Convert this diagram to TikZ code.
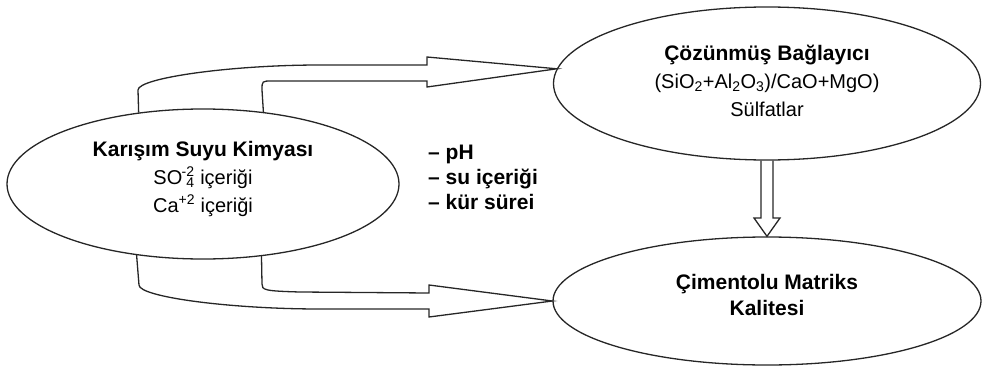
\documentclass[tikz,border=0pt]{standalone}
\usepackage{fontspec}
\setmainfont{Liberation Sans}
\usetikzlibrary{shapes.geometric,calc}

% stacked charge over a subscript, e.g. SO4^-2
\newcommand{\ionsub}[2]{\textsuperscript{\kern-.05em-}\kern-.02em\rlap{\textsuperscript{#2}}\textsubscript{#1}}

\begin{document}
\begin{tikzpicture}[x=1pt,y=-1pt,
  oval/.style={draw=black!85, line width=1.3pt, ellipse, inner sep=0pt,
    align=center, font=\fontsize{20}{28}\selectfont},
  blockarrow/.style={draw=black!85, line width=1.3pt, line join=miter},
  factorlist/.style={font=\bfseries\fontsize{21}{25}\selectfont, align=left, inner sep=0pt}]
\useasboundingbox (0,0) rectangle (982,369);

% the three ellipses (text depth lifts the text a little above centre)
\node[oval, minimum width=392pt, minimum height=150pt, text depth=15pt] (mix) at (203,184)
  {\textbf{\fontsize{21}{28}\selectfont Karışım Suyu Kimyası}\\
   SO\ionsub{4}{2} içeriği\\
   Ca\textsuperscript{+2} içeriği};
\node[oval, minimum width=427pt, minimum height=153pt, text depth=6pt] (bind) at (767,83.5)
  {\textbf{\fontsize{21}{28}\selectfont Çözünmüş Bağlayıcı}\\
   (SiO\textsubscript{2}+Al\textsubscript{2}O\textsubscript{3})/CaO+MgO)\\
   Sülfatlar};
\node[oval, minimum width=428pt, minimum height=128pt, text depth=12pt,
      font=\bfseries\fontsize{21}{26}\selectfont] (qual) at (767,301)
  {Çimentolu Matriks\\Kalitesi};

% factors between the arrows
\node[factorlist, anchor=west] (factors) at (428,177)
  {– pH\\– su içeriği\\– kür sürei};

% bent block arrow: mix -> bind
\draw[blockarrow] (mix.132.57) -- (138,90)
  .. controls (138,78) and (230,65) .. (320,65) -- (427,65) -- (427,57)
  -- (bind.176.9) -- (427,87) -- (427,81) -- (272,81)
  .. controls (262,81) .. (262,90) -- (mix.50.47);

% bent block arrow: mix -> qual
\draw[blockarrow] (mix.227.93) -- (139,285)
  .. controls (139,297) and (230,309) .. (320,309) -- (429,309) -- (429,317)
  -- (qual.west) -- (429,285) -- (429,293) -- (300,292)
  .. controls (264,291) and (262,290) .. (262,284) -- (mix.309.53);

% straight block arrow: bind -> qual
\draw[blockarrow] ($(bind.south)+(-6,0)$) -- (761,218) -- (754,218)
  -- (qual.north) -- (780,218) -- (773,218) -- ($(bind.south)+(6,0)$);
\end{tikzpicture}
\end{document}
